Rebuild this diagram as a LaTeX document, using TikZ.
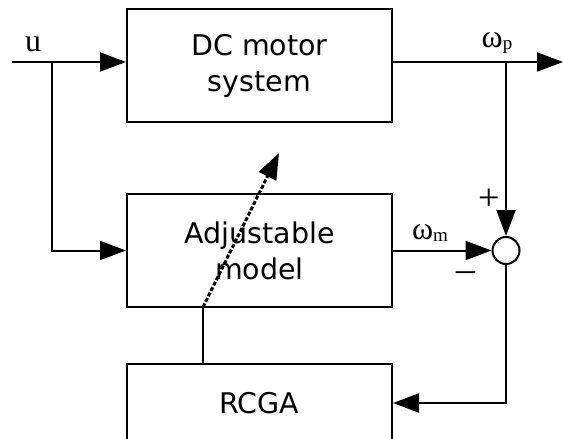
\documentclass[tikz,border=0pt]{standalone}
\usepackage{fontspec}
\setmainfont{DejaVu Sans}
\newfontfamily\lblfont{Liberation Serif}
\usetikzlibrary{arrows.meta}

\tikzset{
  block/.style={draw, line width=2pt, minimum width=265pt, align=center,
    font=\fontsize{28.5}{36}\selectfont},
  sig/.style={line width=2pt, -{Triangle[length=26pt,width=19pt]}},
  wire/.style={line width=2pt},
  lbl/.style={font=\lblfont\fontsize{32}{32}\selectfont, inner sep=0pt},
  signlbl/.style={lbl, font=\lblfont\fontsize{38}{38}\selectfont}
}
\newcommand{\subtxt}[1]{\raisebox{-2pt}{\fontsize{19}{19}\selectfont #1}}

\begin{document}
\begin{tikzpicture}[x=1pt, y=-1pt]
\useasboundingbox (0,0) rectangle (563,439);
% blocks
\node[block, minimum height=113pt] (dc) at (259.5,65.5) {DC motor\\system};
\node[block, minimum height=113pt] (adj) at (259.5,250.5) {Adjustable\\model};
\node[block, minimum height=78pt] (rcga) at (259.5,403) {RCGA};
\node[draw, circle, line width=2pt, minimum size=27pt, inner sep=0pt] (sum) at (506,250.5) {};
\coordinate (uin) at (12,62);
\coordinate (ubr) at (52,62);
\coordinate (yout) at (563,62);
\coordinate (ybr) at (506,62);
\coordinate (tunebase) at (203,307);
\coordinate (tunetip) at (279,153);
% signals
\draw[sig] (uin) -- (uin -| dc.west);
\draw[sig] (ubr) |- (adj.west);
\draw[sig] (uin -| dc.east) -- (yout);
\draw[sig] (ybr) -- (sum.north);
\draw[sig] (adj.east) -- (sum.west);
\draw[sig] (sum.south) |- (rcga.east);
\draw[wire] (rcga.north -| tunebase) -- (tunebase);
\draw[sig, dash pattern=on 4pt off 2pt, line width=3pt] (tunebase) -- (tunetip);
% labels
\node[lbl] (ulbl) at (33,44) {u};
\node[lbl] (wplbl) at (497,43) {ω\subtxt{p}};
\node[lbl] (wmlbl) at (430,233) {ω\subtxt{m}};
\node[signlbl] (plus) at (489,200) {+};
\node[signlbl] (minus) at (466,277) {–};
\end{tikzpicture}
\end{document}
